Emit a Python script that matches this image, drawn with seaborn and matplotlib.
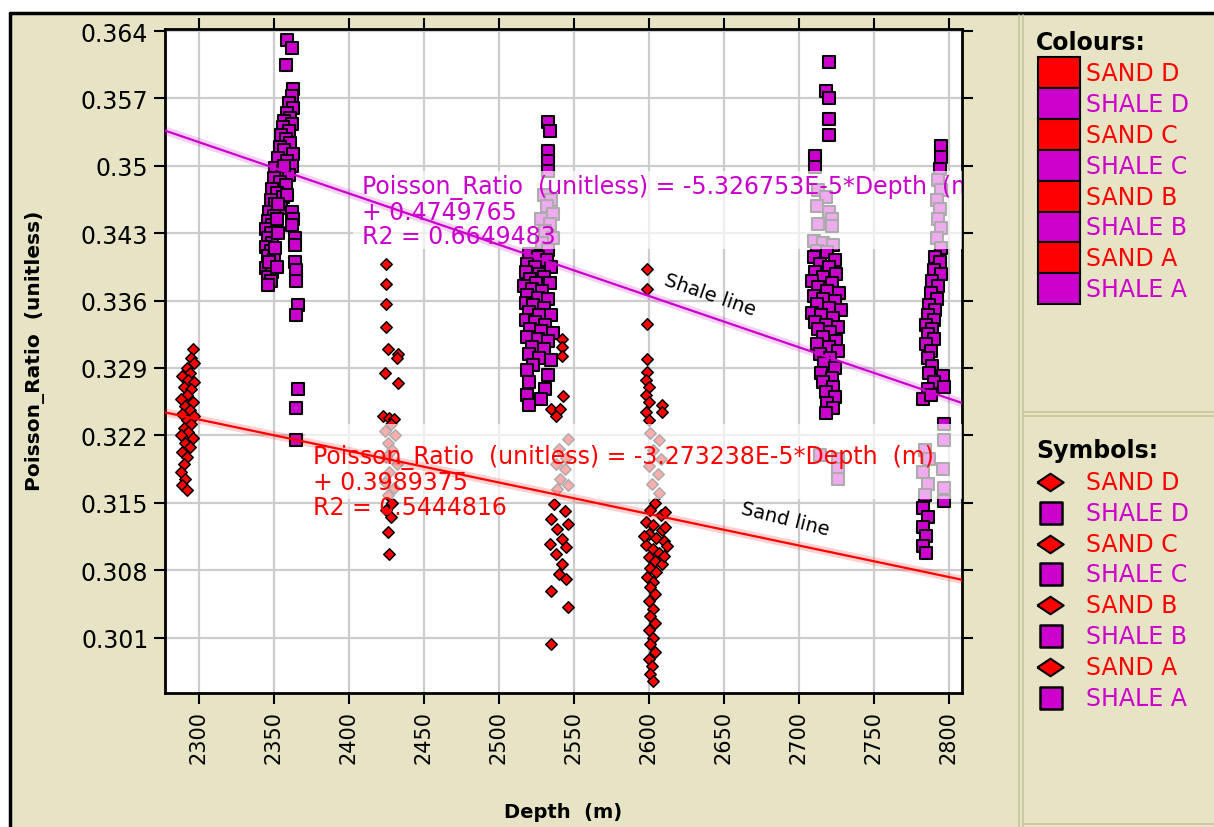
import numpy as np
import pandas as pd
import matplotlib
matplotlib.use('Agg')
import matplotlib.pyplot as plt
import seaborn as sns
from matplotlib.patches import Rectangle

# ---- values (depth m, Poisson ratio) ----
sand_a = [(2296, 0.3310), (2295, 0.3300), (2297, 0.3295), (2292, 0.3290), (2294, 0.3285),
          (2289, 0.3282), (2293, 0.3278), (2297, 0.3275), (2290, 0.3270), (2295, 0.3268),
          (2292, 0.3262), (2288, 0.3258), (2296, 0.3255), (2291, 0.3250), (2294, 0.3246),
          (2289, 0.3242), (2297, 0.3240), (2292, 0.3236), (2295, 0.3232), (2290, 0.3228),
          (2293, 0.3224), (2288, 0.3220), (2296, 0.3217), (2291, 0.3212), (2294, 0.3208),
          (2289, 0.3203), (2292, 0.3198), (2290, 0.3190), (2288, 0.3182), (2291, 0.3175),
          (2289, 0.3168), (2292, 0.3163)]
sand_b = [(2425, 0.3398), (2425, 0.3377), (2425, 0.3356), (2425, 0.3333), (2426, 0.3310),
          (2433, 0.3305), (2432, 0.3300), (2424, 0.3285), (2433, 0.3274), (2423, 0.3240),
          (2427, 0.3238), (2430, 0.3237), (2428, 0.3232), (2424, 0.3225), (2431, 0.3220),
          (2426, 0.3212), (2429, 0.3205), (2425, 0.3198), (2432, 0.3190), (2427, 0.3182),
          (2424, 0.3172), (2430, 0.3165), (2426, 0.3158), (2429, 0.3150), (2425, 0.3142),
          (2428, 0.3135), (2426, 0.3120), (2427, 0.3097)]
sand_c = [(2542, 0.3320), (2542, 0.3312), (2542, 0.3302), (2543, 0.3261), (2535, 0.3247),
          (2541, 0.3247), (2538, 0.3240), (2546, 0.3216), (2540, 0.3206), (2545, 0.3196),
          (2538, 0.3190), (2544, 0.3185), (2541, 0.3175), (2546, 0.3168), (2539, 0.3164),
          (2537, 0.3149), (2544, 0.3141), (2535, 0.3133), (2546, 0.3128), (2539, 0.3123),
          (2542, 0.3112), (2534, 0.3107), (2545, 0.3104), (2538, 0.3097), (2542, 0.3086),
          (2540, 0.3076), (2545, 0.3071), (2535, 0.3058), (2546, 0.3042), (2535, 0.3003)]
sand_d = [(2599, 0.3393), (2599, 0.3372), (2599, 0.3336), (2599, 0.3299), (2599, 0.3286),
          (2598, 0.3278), (2600, 0.3270), (2598, 0.3262), (2600, 0.3255), (2609, 0.3252),
          (2609, 0.3244), (2598, 0.3244), (2600, 0.3236), (2601, 0.3222), (2607, 0.3215),
          (2603, 0.3205), (2608, 0.3195), (2600, 0.3188), (2606, 0.3180), (2602, 0.3170),
          (2607, 0.3160), (2604, 0.3150), (2601, 0.3143), (2608, 0.3137), (2598, 0.3130),
          (2603, 0.3127), (2609, 0.3122), (2600, 0.3118), (2605, 0.3113), (2610, 0.3110),
          (2598, 0.3106), (2603, 0.3102), (2607, 0.3098), (2600, 0.3094), (2604, 0.3090),
          (2609, 0.3086), (2601, 0.3082), (2605, 0.3078), (2599, 0.3073), (2603, 0.3068),
          (2601, 0.3062), (2604, 0.3055), (2600, 0.3048), (2603, 0.3040), (2601, 0.3032),
          (2604, 0.3025), (2600, 0.3018), (2603, 0.3010), (2601, 0.3003), (2604, 0.2995),
          (2600, 0.2988), (2602, 0.2980), (2601, 0.2972), (2603, 0.2965), (2611, 0.3125),
          (2612, 0.3105), (2610, 0.3095), (2597, 0.3115), (2611, 0.3140)]

shale_a = [(2359, 0.3631), (2362, 0.3622), (2358, 0.3605), (2363, 0.3580), (2362, 0.3572),
           (2360, 0.3565), (2363, 0.3560), (2359, 0.3555), (2361, 0.3550), (2357, 0.3547),
           (2362, 0.3543), (2356, 0.3540), (2360, 0.3536), (2355, 0.3532), (2358, 0.3528),
           (2361, 0.3524), (2354, 0.3520), (2357, 0.3516), (2363, 0.3512), (2353, 0.3508),
           (2359, 0.3505), (2362, 0.3500), (2351, 0.3498), (2356, 0.3495), (2360, 0.3490),
           (2350, 0.3487), (2354, 0.3483), (2358, 0.3480), (2349, 0.3476), (2352, 0.3472),
           (2356, 0.3468), (2348, 0.3465), (2351, 0.3460), (2355, 0.3456), (2347, 0.3452),
           (2350, 0.3448), (2362, 0.3452), (2363, 0.3445), (2346, 0.3443), (2349, 0.3438),
           (2362, 0.3438), (2345, 0.3434), (2348, 0.3430), (2364, 0.3425), (2346, 0.3425),
           (2349, 0.3420), (2345, 0.3416), (2348, 0.3412), (2364, 0.3418), (2346, 0.3406),
           (2350, 0.3402), (2347, 0.3398), (2345, 0.3394), (2349, 0.3390), (2346, 0.3385),
           (2348, 0.3380), (2346, 0.3376), (2347, 0.3400), (2364, 0.3400), (2365, 0.3392),
           (2365, 0.3380), (2366, 0.3355), (2365, 0.3345), (2366, 0.3268), (2365, 0.3248),
           (2365, 0.3215), (2352, 0.3445), (2353, 0.3430), (2351, 0.3415), (2352, 0.3395),
           (2357, 0.3500), (2359, 0.3470), (2353, 0.3460)]
shale_b = [(2533, 0.3545), (2534, 0.3536), (2533, 0.3515), (2533, 0.3505), (2533, 0.3495),
           (2530, 0.3470), (2535, 0.3465), (2532, 0.3458), (2536, 0.3450), (2528, 0.3445),
           (2534, 0.3440), (2531, 0.3432), (2536, 0.3425), (2529, 0.3420), (2533, 0.3413),
           (2520, 0.3408), (2526, 0.3405), (2532, 0.3402), (2519, 0.3398), (2524, 0.3395),
           (2535, 0.3395), (2518, 0.3390), (2527, 0.3388), (2530, 0.3385), (2521, 0.3382),
           (2525, 0.3378), (2534, 0.3378), (2517, 0.3375), (2522, 0.3372), (2529, 0.3370),
           (2519, 0.3366), (2526, 0.3363), (2533, 0.3362), (2518, 0.3358), (2523, 0.3355),
           (2530, 0.3352), (2520, 0.3348), (2527, 0.3345), (2535, 0.3345), (2518, 0.3340),
           (2524, 0.3338), (2531, 0.3335), (2521, 0.3330), (2528, 0.3328), (2536, 0.3326),
           (2519, 0.3322), (2526, 0.3320), (2533, 0.3318), (2522, 0.3312), (2530, 0.3310),
           (2520, 0.3305), (2527, 0.3300), (2535, 0.3298), (2523, 0.3293), (2519, 0.3288),
           (2533, 0.3283), (2520, 0.3275), (2531, 0.3268), (2519, 0.3262), (2528, 0.3258),
           (2520, 0.3252)]
shale_c = [(2720, 0.3608), (2718, 0.3578), (2720, 0.3570), (2720, 0.3549), (2720, 0.3532),
           (2711, 0.3510), (2711, 0.3499), (2713, 0.3475), (2718, 0.3468), (2712, 0.3458),
           (2720, 0.3452), (2722, 0.3445), (2713, 0.3440), (2722, 0.3437), (2710, 0.3422),
           (2716, 0.3420), (2723, 0.3418), (2712, 0.3412), (2719, 0.3410), (2710, 0.3405),
           (2724, 0.3402), (2714, 0.3398), (2720, 0.3395), (2711, 0.3390), (2725, 0.3388),
           (2716, 0.3385), (2709, 0.3380), (2722, 0.3378), (2713, 0.3374), (2719, 0.3370),
           (2727, 0.3368), (2710, 0.3365), (2716, 0.3362), (2724, 0.3360), (2712, 0.3356),
           (2720, 0.3352), (2728, 0.3350), (2709, 0.3347), (2715, 0.3345), (2723, 0.3342),
           (2711, 0.3338), (2718, 0.3335), (2726, 0.3333), (2713, 0.3330), (2721, 0.3327),
           (2716, 0.3322), (2725, 0.3318), (2712, 0.3315), (2720, 0.3312), (2726, 0.3308),
           (2714, 0.3305), (2721, 0.3300), (2717, 0.3295), (2724, 0.3290), (2715, 0.3285),
           (2722, 0.3280), (2716, 0.3275), (2723, 0.3270), (2718, 0.3265), (2724, 0.3260),
           (2719, 0.3254), (2723, 0.3248), (2718, 0.3243), (2714, 0.3200), (2726, 0.3195),
           (2726, 0.3185), (2726, 0.3175)]
shale_d = [(2795, 0.3521), (2795, 0.3509), (2794, 0.3497), (2793, 0.3485), (2795, 0.3475),
           (2792, 0.3465), (2794, 0.3455), (2793, 0.3445), (2795, 0.3435), (2792, 0.3425),
           (2795, 0.3415), (2791, 0.3405), (2794, 0.3400), (2790, 0.3392), (2795, 0.3388),
           (2789, 0.3380), (2793, 0.3375), (2788, 0.3368), (2792, 0.3362), (2787, 0.3355),
           (2791, 0.3350), (2786, 0.3345), (2790, 0.3340), (2785, 0.3335), (2789, 0.3330),
           (2786, 0.3325), (2790, 0.3320), (2785, 0.3315), (2788, 0.3308), (2786, 0.3300),
           (2789, 0.3292), (2787, 0.3285), (2796, 0.3282), (2790, 0.3275), (2797, 0.3270),
           (2786, 0.3268), (2783, 0.3258), (2788, 0.3262), (2797, 0.3232), (2797, 0.3215),
           (2784, 0.3205), (2787, 0.3195), (2796, 0.3185), (2783, 0.3182), (2786, 0.3170),
           (2797, 0.3165), (2784, 0.3158), (2797, 0.3152), (2783, 0.3145), (2786, 0.3135),
           (2783, 0.3125), (2785, 0.3115), (2783, 0.3105), (2785, 0.3098)]

# fitted lines as printed on the chart
shale_slope, shale_icpt = -5.326753e-5, 0.4749765
sand_slope, sand_icpt = -3.273238e-5, 0.3989375
shale_eq = ['Poisson_Ratio  (unitless) = -5.326753E-5*Depth  (m)', '+ 0.4749765', 'R2 = 0.6649483']
sand_eq = ['Poisson_Ratio  (unitless) = -3.273238E-5*Depth  (m)', '+ 0.3989375', 'R2 = 0.5444816']

legend_labels = ['SAND D', 'SHALE D', 'SAND C', 'SHALE C', 'SAND B', 'SHALE B', 'SAND A', 'SHALE A']
x_ticks = [2300, 2350, 2400, 2450, 2500, 2550, 2600, 2650, 2700, 2750, 2800]
y_ticks = [0.301, 0.308, 0.315, 0.322, 0.329, 0.336, 0.343, 0.35, 0.357, 0.364]
y_ticklabels = ['0.301', '0.308', '0.315', '0.322', '0.329', '0.336', '0.343', '0.35', '0.357', '0.364']

RED = '#FF0000'
MAG = '#CC00CC'
BEIGE = '#E6E4C5'

rows = []
for zone, lith, pts in [('SAND A', 'SAND', sand_a), ('SAND B', 'SAND', sand_b),
                        ('SAND C', 'SAND', sand_c), ('SAND D', 'SAND', sand_d),
                        ('SHALE A', 'SHALE', shale_a), ('SHALE B', 'SHALE', shale_b),
                        ('SHALE C', 'SHALE', shale_c), ('SHALE D', 'SHALE', shale_d)]:
    for d, p in pts:
        rows.append((zone, lith, d, p))
df = pd.DataFrame(rows, columns=['zone', 'lith', 'depth', 'pr'])

sns.set_theme(style='whitegrid')
plt.rcParams['font.family'] = ['DejaVu Sans']
plt.rcParams['text.color'] = 'black'
plt.rcParams['axes.labelcolor'] = 'black'
plt.rcParams['xtick.color'] = 'black'
plt.rcParams['ytick.color'] = 'black'

fig = plt.figure(figsize=(12.14, 8.28), dpi=100)
fig.patch.set_facecolor('white')

# background panel in pixel coords
pax = fig.add_axes([0, 0, 1, 1])
pax.set_xlim(0, 1214)
pax.set_ylim(828, 0)
pax.axis('off')
pax.set_zorder(0)
pax.add_patch(Rectangle((10, 14), 1204, 814, facecolor=BEIGE, edgecolor='none'))
pax.plot([10, 1214], [14, 14], color='black', lw=2.5)
pax.plot([10, 10], [14, 828], color='black', lw=2.5)
for xx in (1019, 1023):
    pax.plot([xx, xx], [16, 828], color='#C4C79B', lw=1.2)
for yy in (413, 417, 825):
    pax.plot([1023, 1214], [yy, yy], color='#C4C79B', lw=1.2)

# legend panel
wide_diamond = [(-1.35, 0), (0, 0.9), (1.35, 0), (0, -0.9), (-1.35, 0)]
pax.text(1036, 43, 'Colours:', fontsize=17, fontweight='bold', va='center', ha='left')
pax.text(1036, 451, 'Symbols:', fontsize=17, fontweight='bold', va='center', ha='left')
for i, lab in enumerate(legend_labels):
    col = RED if lab.startswith('SAND') else MAG
    y0 = 58 + i * 30.9
    pax.add_patch(Rectangle((1038, y0), 42, 30.9, facecolor=col, edgecolor='black', lw=1.5))
    pax.text(1086, y0 + 16, lab, color=col, fontsize=17, va='center', ha='left')
    ys = 483 + i * 30.8
    if col == RED:
        pax.scatter([1050], [ys], marker=wide_diamond, s=360, color=col, edgecolor='black',
                    linewidth=1.5, zorder=3)
    else:
        pax.scatter([1051], [ys], marker='s', s=230, color=col, edgecolor='black',
                    linewidth=1.8, zorder=3)
    pax.text(1086, ys, lab, color=col, fontsize=17, va='center', ha='left')

# main plot
ax = fig.add_axes([165 / 1214, 1 - 694 / 828, (962 - 165) / 1214, (694 - 30) / 828])
ax.set_zorder(1)
ax.set_facecolor('white')

sns.scatterplot(data=df[df.lith == 'SHALE'], x='depth', y='pr', color=MAG, marker='s', s=68,
                edgecolor='black', linewidth=1.5, ax=ax, zorder=2, legend=False)
sns.scatterplot(data=df[df.lith == 'SAND'], x='depth', y='pr', color=RED, marker='D', s=34,
                edgecolor='black', linewidth=1.1, ax=ax, zorder=2, legend=False)

ax.set_xlim(2277.5, 2808.7)
ax.set_ylim(0.29524, 0.36421)

# translucent boxes behind the equations
ax.add_patch(Rectangle((2403, 0.34136), 500, 0.0081, facecolor='white', alpha=0.68,
                       edgecolor='none', zorder=3))
ax.add_patch(Rectangle((2370.7, 0.31539), 500, 0.00779, facecolor='white', alpha=0.68,
                       edgecolor='none', zorder=3))

xs = np.array([2277.5, 2808.7])
for slope, icpt, col in [(shale_slope, shale_icpt, MAG), (sand_slope, sand_icpt, RED)]:
    ys = icpt + slope * xs
    ax.plot(xs, ys, color=col, lw=6, alpha=0.18, zorder=4, solid_capstyle='butt')
    ax.plot(xs, ys, color=col, lw=1.6, zorder=4)

for line, yv in zip(shale_eq, [0.34780, 0.34520, 0.34271]):
    ax.text(2408.7, yv, line, color=MAG, fontsize=17, va='center', ha='left',
            clip_on=True, zorder=5)
for line, yv in zip(sand_eq, [0.31983, 0.31713, 0.31454]):
    ax.text(2376.0, yv, line, color=RED, fontsize=17, va='center', ha='left',
            clip_on=True, zorder=5)

ax.text(2641, 0.3366, 'Shale line', fontsize=14, rotation=-19, ha='center', va='center', zorder=5)
ax.text(2691, 0.3134, 'Sand line', fontsize=14, rotation=-14, ha='center', va='center', zorder=5)

ax.set_xticks(x_ticks)
ax.set_xticklabels([str(t) for t in x_ticks], rotation=90)
ax.set_yticks(y_ticks)
ax.set_yticklabels(y_ticklabels)
ax.grid(True, color='#CCCCCC', lw=1.6)
ax.tick_params(axis='both', which='major', direction='out', length=8, width=1.5, color='black',
               top=True, right=True, bottom=True, left=True,
               labeltop=False, labelright=False, pad=4)
ax.tick_params(axis='y', labelsize=17, colors='black')
ax.tick_params(axis='x', labelsize=15, colors='black')
for sp in ax.spines.values():
    sp.set_color('black')
    sp.set_linewidth(2)
    sp.set_visible(True)

ax.set_xlabel('Depth  (m)', fontsize=14, fontweight='bold', labelpad=28)
ax.set_ylabel('Poisson_Ratio  (unitless)', fontsize=14.5, fontweight='bold')
ax.yaxis.set_label_coords(-0.15, 0.517)

fig.savefig('out.png', dpi=100, facecolor='white')
